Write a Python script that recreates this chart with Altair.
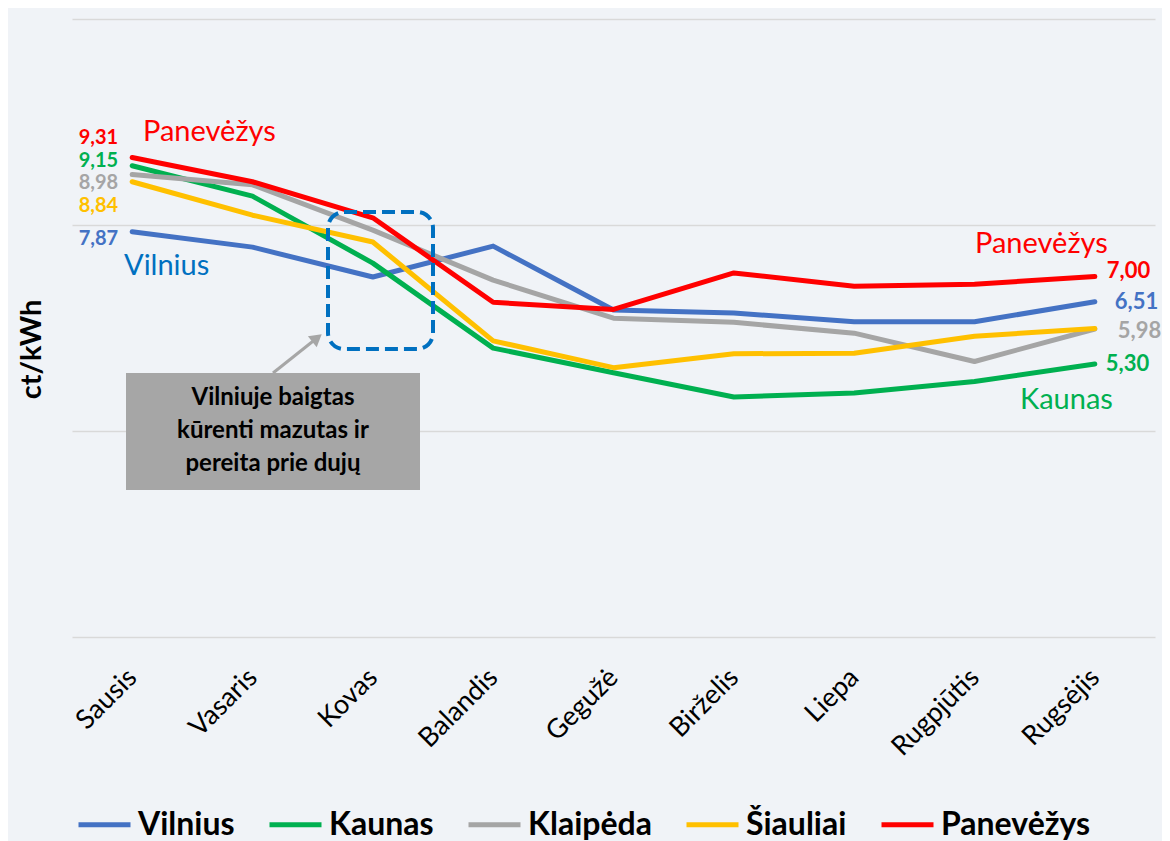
import altair as alt
import pandas as pd

months = ["Sausis", "Vasaris", "Kovas", "Balandis", "Gegužė", "Birželis", "Liepa", "Rugpjūtis", "Rugsėjis"]
cities = ["Vilnius", "Kaunas", "Klaipėda", "Šiauliai", "Panevėžys"]
colors = ["#4472C4", "#00B050", "#A5A5A5", "#FFC000", "#FF0000"]

vilnius = [7.87, 7.57, 6.99, 7.59, 6.35, 6.29, 6.12, 6.12, 6.51]
kaunas = [9.15, 8.56, 7.26, 5.61, 5.13, 4.66, 4.74, 4.96, 5.30]
klaipeda = [8.98, 8.78, 7.90, 6.93, 6.19, 6.11, 5.90, 5.35, 5.98]
siauliai = [8.84, 8.19, 7.67, 5.75, 5.23, 5.50, 5.51, 5.84, 5.99]
panevezys = [9.31, 8.84, 8.14, 6.50, 6.36, 7.07, 6.81, 6.85, 7.00]
series = [vilnius, kaunas, klaipeda, siauliai, panevezys]

y_ticks = [0, 4, 8, 12]
note = "Vilniuje baigtas\nkūrenti mazutas ir\npereita prie dujų"

FONT = "Lato"
W, H = 1083, 618

rows = []
for c, vals in zip(cities, series):
    for m, v in zip(months, vals):
        rows.append({"city": c, "month": m, "value": v, "label": f"{v:.2f}".replace(".", ",")})
df = pd.DataFrame(rows)

x_enc = alt.X("month:N", sort=months,
              scale=alt.Scale(type="point", domain=months, padding=0.5),
              axis=alt.Axis(title=None, labelAngle=-45, labelAlign="right", labelBaseline="middle",
                            labelFont=FONT, labelFontSize=27, labelColor="#000000", labelPadding=36,
                            ticks=False, domain=False, grid=False))
y_enc = alt.Y("value:Q",
              scale=alt.Scale(domain=[0, 12], nice=False, zero=True),
              axis=alt.Axis(title="ct/kWh", values=y_ticks, labels=False, ticks=False, domain=False,
                            grid=True, gridColor="#D9D9D9", gridWidth=1.5,
                            titleFont=FONT, titleFontSize=29, titleFontWeight="bold", titleColor="#000000",
                            titlePadding=26, titleY=330))
color_enc = alt.Color("city:N",
                      scale=alt.Scale(domain=cities, range=colors),
                      legend=alt.Legend(title=None, orient="none", direction="horizontal",
                                        legendX=4, legendY=777, padding=0,
                                        symbolType="stroke", symbolSize=2704, symbolStrokeWidth=5,
                                        labelFont=FONT, labelFontSize=32, labelFontWeight="bold",
                                        labelColor="#000000", labelLimit=400, labelOffset=5,
                                        columnPadding=24))

layers = []
for c in cities:
    layers.append(
        alt.Chart(df).transform_filter(alt.datum.city == c)
        .mark_line(strokeWidth=5, strokeCap="round", strokeJoin="round")
        .encode(x=x_enc, y=y_enc, color=color_enc)
    )

# value labels at the first month
left_offsets = {"Panevėžys": -20, "Kaunas": -5, "Klaipėda": 8, "Šiauliai": 24, "Vilnius": 7}
for c, col in zip(cities, colors):
    layers.append(
        alt.Chart(df).transform_filter((alt.datum.city == c) & (alt.datum.month == months[0]))
        .mark_text(font=FONT, fontSize=20, fontWeight="bold", align="right", baseline="middle",
                   dx=-14, dy=left_offsets[c], color=col)
        .encode(x=alt.X("month:N", sort=months), y=alt.Y("value:Q"), text="label:N")
    )

# value labels at the last month
right_offsets = {"Panevėžys": (12, -6), "Vilnius": (20, 0), "Klaipėda": (23, 2), "Kaunas": (11, 0)}
for c, col in zip(cities, colors):
    if c not in right_offsets:
        continue
    dx, dy = right_offsets[c]
    layers.append(
        alt.Chart(df).transform_filter((alt.datum.city == c) & (alt.datum.month == months[-1]))
        .mark_text(font=FONT, fontSize=22, fontWeight="bold", align="left", baseline="middle",
                   dx=dx, dy=dy, color=col)
        .encode(x=alt.X("month:N", sort=months), y=alt.Y("value:Q"), text="label:N")
    )

# series name annotations
def name_label(text, color, x, y):
    return alt.Chart(pd.DataFrame({"t": [text]})).mark_text(
        font=FONT, fontSize=29, align="left", baseline="middle", color=color
    ).encode(text="t:N", x=alt.value(x), y=alt.value(y))

layers.append(name_label("Panevėžys", "#FF0000", 71, 113))
layers.append(name_label("Vilnius", "#0070C0", 52, 247))
layers.append(name_label("Panevėžys", "#FF0000", 903, 225))
layers.append(name_label("Kaunas", "#00B050", 948, 381))

one = pd.DataFrame({"a": [0]})
# dashed highlight box
layers.append(
    alt.Chart(one).mark_rect(fillOpacity=0, stroke="#0070C0", strokeWidth=4, strokeDash=[13, 6],
                             cornerRadius=16)
    .encode(x=alt.value(256), x2=alt.value(361), y=alt.value(193), y2=alt.value(330))
)
# note box
layers.append(
    alt.Chart(one).mark_rect(fill="#A6A6A6")
    .encode(x=alt.value(54), x2=alt.value(348), y=alt.value(354), y2=alt.value(471))
)
layers.append(
    alt.Chart(one).mark_text(font=FONT, fontSize=24, fontWeight="bold", color="#000000",
                             align="center", baseline="middle", lineBreak="\n", lineHeight=33)
    .encode(text=alt.value(note), x=alt.value(201), y=alt.value(379))
)
# arrow
layers.append(
    alt.Chart(one).mark_rule(color="#A6A6A6", strokeWidth=3)
    .encode(x=alt.value(201), y=alt.value(354), x2=alt.value(245), y2=alt.value(319))
)
layers.append(
    alt.Chart(one).mark_point(shape="triangle-up", filled=True, size=196, angle=51,
                              color="#A6A6A6", opacity=1)
    .encode(x=alt.value(245), y=alt.value(319))
)

chart = alt.layer(*layers).properties(
    width=W, height=H,
    autosize=alt.AutoSizeParams(type="none"),
    padding={"left": 64, "top": 11, "right": 7, "bottom": 204},
    background="#F0F3F7",
).configure_view(stroke=None)

chart.save("out.html", embed_options={"renderer": "svg", "actions": False})
